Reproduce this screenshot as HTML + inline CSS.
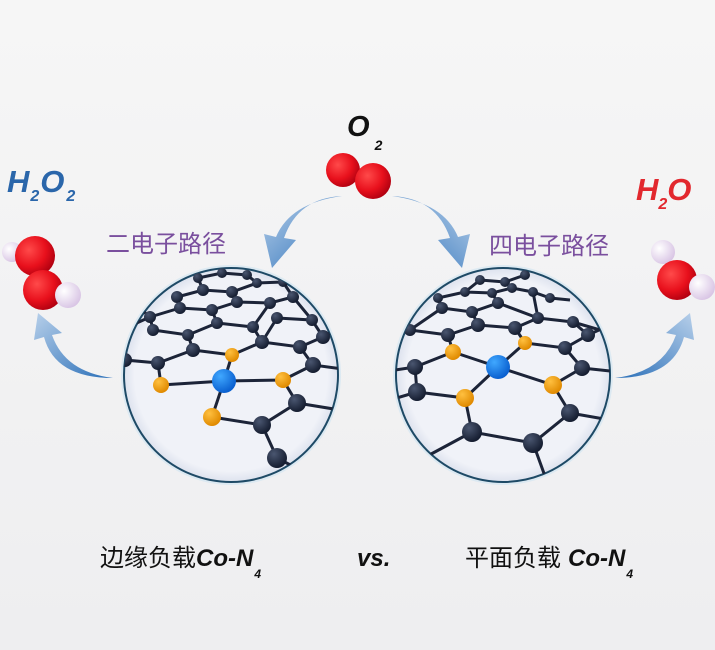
<!DOCTYPE html>
<html><head><meta charset="utf-8"><style>
html,body{margin:0;padding:0;}
body{width:715px;height:650px;overflow:hidden;background:linear-gradient(#f6f6f6,#eeeef0);}
svg{display:block}
</style></head><body>
<svg width="715" height="650" viewBox="0 0 715 650" xmlns="http://www.w3.org/2000/svg">
<defs>
<radialGradient id="red" cx="0.35" cy="0.35" r="0.7"><stop offset="0" stop-color="#ff4a4a"/><stop offset="0.6" stop-color="#e8101c"/><stop offset="1" stop-color="#b00010"/></radialGradient>
<radialGradient id="wh" cx="0.35" cy="0.35" r="0.7"><stop offset="0" stop-color="#ffffff"/><stop offset="1" stop-color="#d8c4e4"/></radialGradient>
<radialGradient id="dk" cx="0.35" cy="0.3" r="0.7"><stop offset="0" stop-color="#4a5670"/><stop offset="1" stop-color="#151d30"/></radialGradient>
<radialGradient id="or" cx="0.35" cy="0.3" r="0.7"><stop offset="0" stop-color="#ffc040"/><stop offset="1" stop-color="#e08a00"/></radialGradient>
<radialGradient id="bl" cx="0.35" cy="0.3" r="0.7"><stop offset="0" stop-color="#40a8ff"/><stop offset="1" stop-color="#0a60d0"/></radialGradient>
<radialGradient id="disc" cx="0.5" cy="0.5" r="0.5"><stop offset="0.9" stop-color="#f0f2f8"/><stop offset="1" stop-color="#dde2ee"/></radialGradient>
<linearGradient id="arr" x1="0" y1="0" x2="1" y2="1"><stop offset="0" stop-color="#b8d0ea"/><stop offset="1" stop-color="#2a6fb8"/></linearGradient>
<clipPath id="cl"><circle cx="231" cy="375" r="107"/></clipPath>
<clipPath id="cr"><circle cx="503" cy="375" r="107"/></clipPath>
</defs>

<text x="347" y="136" font-family="Liberation Sans, sans-serif" font-weight="bold" font-style="italic" font-size="29" fill="#111">O<tspan font-size="14" dx="5" dy="14">2</tspan></text>
<circle cx="343" cy="170" r="17" fill="url(#red)"/>
<circle cx="373" cy="181" r="18" fill="url(#red)"/>

<text x="7" y="192" font-family="Liberation Sans, sans-serif" font-weight="bold" font-style="italic" font-size="31" fill="#2a66aa">H<tspan font-size="16" dx="1" dy="9">2</tspan><tspan dx="1" dy="-9">O</tspan><tspan font-size="16" dx="2" dy="9">2</tspan></text>
<text x="636" y="200" font-family="Liberation Sans, sans-serif" font-weight="bold" font-style="italic" font-size="31" fill="#e2282e">H<tspan font-size="16" dx="0" dy="9">2</tspan><tspan dx="0" dy="-9">O</tspan></text>

<circle cx="12" cy="252" r="10" fill="url(#wh)"/>
<circle cx="35" cy="256" r="20" fill="url(#red)"/>
<circle cx="43" cy="290" r="20" fill="url(#red)"/>
<circle cx="68" cy="295" r="13" fill="url(#wh)"/>
<circle cx="663" cy="252" r="12" fill="url(#wh)"/>
<circle cx="677" cy="280" r="20" fill="url(#red)"/>
<circle cx="702" cy="287" r="13" fill="url(#wh)"/>

<text x="106" y="252" font-family="Noto Sans CJK SC, sans-serif" font-size="24" fill="#7a4f9e">二电子路径</text>
<text x="489" y="254" font-family="Noto Sans CJK SC, sans-serif" font-size="24" fill="#7a4f9e">四电子路径</text>

<path d="M342,196 Q298,198 284,238 L296,240 L272,268 L264,234 L276,237 Q290,203 342,196 Z" fill="url(#arr)"/>
<path d="M342,196 Q298,198 284,238 L296,240 L272,268 L264,234 L276,237 Q290,203 342,196 Z" fill="url(#arr)" transform="translate(734,0) scale(-1,1)"/>
<path d="M113,378 Q65,372 52,335 L62,333 L38,313 L34,340 L44,337 Q55,378 113,378 Z" fill="url(#arr)"/>
<path d="M113,378 Q65,372 52,335 L62,333 L38,313 L34,340 L44,337 Q55,378 113,378 Z" fill="url(#arr)" transform="translate(728,0) scale(-1,1)"/>

<circle cx="231" cy="375" r="110" fill="#cfe4f2" opacity="0.6"/>
<circle cx="231" cy="375" r="107" fill="url(#disc)" stroke="#1e4a66" stroke-width="2"/>
<g clip-path="url(#cl)" stroke="#1c2438" stroke-width="3" fill="none">
<path d="M198,278 L222,273 L247,275 L257,283 L283,282 M177,297 L203,290 L232,292 L257,283 M203,290 L198,278 M232,292 L237,302 L270,303 L293,297 L283,282 M150,317 L180,308 L212,310 L237,302 M180,308 L177,297 M212,310 L217,323 L253,327 L270,303 M277,318 L312,320 L293,297 M153,330 L188,335 L217,323 M188,335 L193,350 L158,363 L125,360 M153,330 L150,317 M110,335 L150,317 M253,327 L262,342 L300,347 L323,337 L312,320 M262,342 L232,355 L193,350 M300,347 L313,365 L350,370 M277,318 L262,342 M323,337 L345,325 M158,363 L161,385 M161,385 L224,381 L283,380 L313,365 M232,355 L224,381 L212,417 M283,380 L297,403 L262,425 L212,417 M297,403 L340,410 M262,425 L277,458 L300,470 M300,282 L320,290 M150,317 L130,300"/>
</g>
<g clip-path="url(#cl)">
<g fill="url(#dk)">
<circle cx="198" cy="278" r="5"/><circle cx="222" cy="273" r="5"/><circle cx="247" cy="275" r="5"/><circle cx="257" cy="283" r="5"/><circle cx="283" cy="282" r="5"/>
<circle cx="177" cy="297" r="6"/><circle cx="203" cy="290" r="6"/><circle cx="232" cy="292" r="6"/><circle cx="270" cy="303" r="6"/><circle cx="293" cy="297" r="6"/>
<circle cx="150" cy="317" r="6"/><circle cx="180" cy="308" r="6"/><circle cx="212" cy="310" r="6"/><circle cx="237" cy="302" r="6"/><circle cx="277" cy="318" r="6"/><circle cx="312" cy="320" r="6"/>
<circle cx="153" cy="330" r="6"/><circle cx="188" cy="335" r="6"/><circle cx="217" cy="323" r="6"/><circle cx="253" cy="327" r="6"/><circle cx="262" cy="342" r="7"/><circle cx="300" cy="347" r="7"/><circle cx="323" cy="337" r="7"/>
<circle cx="125" cy="360" r="7"/><circle cx="158" cy="363" r="7"/><circle cx="193" cy="350" r="7"/><circle cx="313" cy="365" r="8"/>
<circle cx="297" cy="403" r="9"/><circle cx="262" cy="425" r="9"/><circle cx="277" cy="458" r="10"/>
</g>
<g fill="url(#or)"><circle cx="232" cy="355" r="7"/><circle cx="161" cy="385" r="8"/><circle cx="283" cy="380" r="8"/><circle cx="212" cy="417" r="9"/></g>
<circle cx="224" cy="381" r="12" fill="url(#bl)"/>
</g>

<circle cx="503" cy="375" r="110" fill="#cfe4f2" opacity="0.6"/>
<circle cx="503" cy="375" r="107" fill="url(#disc)" stroke="#1e4a66" stroke-width="2"/>
<g clip-path="url(#cr)" stroke="#1c2438" stroke-width="3" fill="none">
<path d="M480,280 L505,282 L525,275 M465,292 L492,293 L512,288 L533,292 L550,298 M438,298 L465,292 L480,280 M505,282 L512,288 M442,308 L472,312 L498,303 L538,318 L573,322 L600,330 M442,308 L438,298 M492,293 L498,303 M533,292 L538,318 M410,330 L448,335 L478,325 L515,328 L538,318 M478,325 L472,312 M410,330 L442,308 M573,322 L588,335 L565,348 L525,343 L515,328 M395,370 L415,367 L453,352 L448,335 M415,367 L417,392 L465,398 L498,367 L453,352 M498,367 L525,343 M498,367 L553,385 L582,368 L565,348 M582,368 L620,372 M417,392 L390,400 M553,385 L570,413 L533,443 L472,432 L465,398 M472,432 L420,460 M533,443 L550,490 M570,413 L610,420 M588,335 L610,325 M550,298 L570,300"/>
</g>
<g clip-path="url(#cr)">
<g fill="url(#dk)">
<circle cx="480" cy="280" r="5"/><circle cx="505" cy="282" r="5"/><circle cx="525" cy="275" r="5"/>
<circle cx="438" cy="298" r="5"/><circle cx="465" cy="292" r="5"/><circle cx="492" cy="293" r="5"/><circle cx="512" cy="288" r="5"/><circle cx="533" cy="292" r="5"/><circle cx="550" cy="298" r="5"/>
<circle cx="442" cy="308" r="6"/><circle cx="472" cy="312" r="6"/><circle cx="498" cy="303" r="6"/><circle cx="538" cy="318" r="6"/><circle cx="573" cy="322" r="6"/>
<circle cx="410" cy="330" r="6"/><circle cx="448" cy="335" r="7"/><circle cx="478" cy="325" r="7"/><circle cx="515" cy="328" r="7"/><circle cx="588" cy="335" r="7"/>
<circle cx="565" cy="348" r="7"/><circle cx="415" cy="367" r="8"/><circle cx="417" cy="392" r="9"/><circle cx="582" cy="368" r="8"/>
<circle cx="570" cy="413" r="9"/><circle cx="472" cy="432" r="10"/><circle cx="533" cy="443" r="10"/>
</g>
<g fill="url(#or)"><circle cx="453" cy="352" r="8"/><circle cx="525" cy="343" r="7"/><circle cx="465" cy="398" r="9"/><circle cx="553" cy="385" r="9"/></g>
<circle cx="498" cy="367" r="12" fill="url(#bl)"/>
</g>

<text x="100" y="566" font-family="Noto Sans CJK SC, sans-serif" font-size="24" fill="#111">边缘负载</text>
<text x="196" y="566" font-family="Liberation Sans, sans-serif" font-weight="bold" font-style="italic" font-size="24" fill="#111">Co-N<tspan font-size="12" dx="1" dy="12">4</tspan></text>
<text x="357" y="566" font-family="Liberation Sans, sans-serif" font-weight="bold" font-style="italic" font-size="24" fill="#111">vs.</text>
<text x="465" y="566" font-family="Noto Sans CJK SC, sans-serif" font-size="24" fill="#111">平面负载</text>
<text x="568" y="566" font-family="Liberation Sans, sans-serif" font-weight="bold" font-style="italic" font-size="24" fill="#111">Co-N<tspan font-size="12" dx="1" dy="12">4</tspan></text>
</svg>
</body></html>
